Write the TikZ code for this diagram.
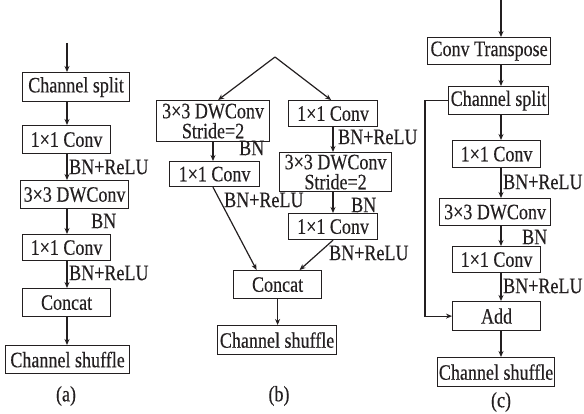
\documentclass[tikz,border=0pt]{standalone}
\usepackage{fontspec}
\setmainfont{Liberation Serif}[FakeStretch=0.82,FakeBold=0.3]
\usetikzlibrary{arrows.meta}
\definecolor{ink}{HTML}{231F20}
\tikzset{
  >={Stealth[length=6pt,width=5pt]},
  blk/.style={draw=ink,line width=1.2pt,minimum height=28pt,inner sep=0pt,align=center,anchor=north west,text=ink},
  twoline/.style={font=\fontsize{22}{20}\selectfont},
  flow/.style={->,line width=1.2pt,color=ink},
  lbl/.style={anchor=west,inner sep=0pt,text=ink},
  sublbl/.style={inner sep=0pt,text=ink},
}

\begin{document}
\begin{tikzpicture}[x=1pt,y=-1pt,font=\fontsize{22}{18}\selectfont]
  \useasboundingbox (0,0) rectangle (584,414);

  % (a)
  \coordinate (ain) at (67,43);
  \node[blk,minimum width=107pt,minimum height=29pt] (asplit) at (22,72) {Channel split};
  \node[blk,minimum width=88pt] (aconv1) at (22,125) {1×1 Conv};
  \node[blk,minimum width=108pt] (adw) at (20,180) {3×3 DWConv};
  \node[blk,minimum width=88pt,minimum height=26pt] (aconv2) at (22,234) {1×1 Conv};
  \node[blk,minimum width=88pt] (aconcat) at (22,288) {Concat};
  \node[blk,minimum width=124pt] (ashuffle) at (5,345) {Channel shuffle};
  \node[lbl] (abn1) at (69,167) {BN+ReLU};
  \node[lbl] (abn2) at (91,221) {BN};
  \node[lbl] (abn3) at (69,273) {BN+ReLU};
  \node[sublbl] (acap) at (66,396) {(a)};
  \draw[flow] (ain) -- (asplit.north -| ain);
  \draw[flow] (asplit.south -| ain) -- (aconv1.north -| ain);
  \draw[flow] (aconv1.south -| ain) -- (adw.north -| ain);
  \draw[flow] (adw.south -| ain) -- (aconv2.north -| ain);
  \draw[flow] (aconv2.south -| ain) -- (aconcat.north -| ain);
  \draw[flow] (aconcat.south -| ain) -- (ashuffle.north -| ain);

  % (b)
  \coordinate (btop) at (275,57);
  \coordinate (bxl) at (213,0);
  \coordinate (bxr) at (333,0);
  \node[blk,twoline,minimum width=113pt,minimum height=41pt] (bdwl) at (156,100) {3×3 DWConv\\Stride=2};
  \node[blk,minimum width=89pt,minimum height=26pt] (bconvr1) at (288,100) {1×1 Conv};
  \node[blk,minimum width=90pt,minimum height=25pt] (bconvl) at (169,161) {1×1 Conv};
  \node[blk,twoline,minimum width=112pt,minimum height=39pt] (bdwr) at (279,152) {3×3 DWConv\\Stride=2};
  \node[blk,minimum width=89pt,minimum height=26pt] (bconvr2) at (288,213) {1×1 Conv};
  \node[blk,minimum width=88pt] (bconcat) at (233,270) {Concat};
  \node[blk,minimum width=119pt,minimum height=29pt] (bshuffle) at (217,325) {Channel shuffle};
  \node[lbl] (bbn1) at (239,148) {BN};
  \node[lbl] (bbn2) at (338,137) {BN+ReLU};
  \node[lbl] (bbn3) at (224,200) {BN+ReLU};
  \node[lbl] (bbn4) at (351,205) {BN};
  \node[lbl] (bbn5) at (329,253) {BN+ReLU};
  \node[sublbl] (bcap) at (279,396) {(b)};
  \draw[flow] (btop) -- ([xshift=5pt]bdwl.north);
  \draw[flow] (btop) -- ([xshift=-2pt]bconvr1.north);
  \draw[flow] (bdwl.south -| bxl) -- (bconvl.north -| bxl);
  \draw[flow] (bconvr1.south -| bxr) -- (bdwr.north -| bxr);
  \draw[flow] (bdwr.south -| bxr) -- (bconvr2.north -| bxr);
  \draw[flow] (bconvl.south -| bxl) -- ([xshift=-21pt]bconcat.north);
  \draw[flow] (bconvr2.south -| bxr) -- ([xshift=22pt]bconcat.north);
  \draw[flow] (bconcat.south) -- (bshuffle.north -| bconcat.south);

  % (c)
  \coordinate (cin) at (501,0);
  \coordinate (cskip) at (425,0);
  \node[blk,minimum width=123pt,minimum height=27pt] (ctrans) at (427,37) {Conv Transpose};
  \node[blk,minimum width=100pt] (csplit) at (448,86) {Channel split};
  \node[blk,minimum width=88pt,minimum height=27pt] (cconv1) at (452,140) {1×1 Conv};
  \node[blk,minimum width=111pt,minimum height=27pt] (cdw) at (439,198) {3×3 DWConv};
  \node[blk,minimum width=88pt,minimum height=26pt] (cconv2) at (452,246) {1×1 Conv};
  \node[blk,minimum width=88pt,minimum height=29pt] (cadd) at (452,301) {Add};
  \node[blk,minimum width=117pt,minimum height=29pt] (cshuffle) at (437,357) {Channel shuffle};
  \node[lbl] (cbn1) at (503,182) {BN+ReLU};
  \node[lbl] (cbn2) at (522,237) {BN};
  \node[lbl] (cbn3) at (503,286) {BN+ReLU};
  \node[sublbl] (ccap) at (501,402) {(c)};
  \draw[flow] (cin) -- (ctrans.north -| cin);
  \draw[flow] (ctrans.south -| cin) -- (csplit.north -| cin);
  \draw[flow] (csplit.south -| cin) -- (cconv1.north -| cin);
  \draw[flow] (cconv1.south -| cin) -- (cdw.north -| cin);
  \draw[flow] (cdw.south -| cin) -- (cconv2.north -| cin);
  \draw[flow] (cconv2.south -| cin) -- (cadd.north -| cin);
  \draw[flow] (cadd.south -| cin) -- (cshuffle.north -| cin);
  \draw[flow] (csplit.west) -- (csplit.west -| cskip) -- (cadd.west -| cskip) -- (cadd.west);
\end{tikzpicture}
\end{document}
